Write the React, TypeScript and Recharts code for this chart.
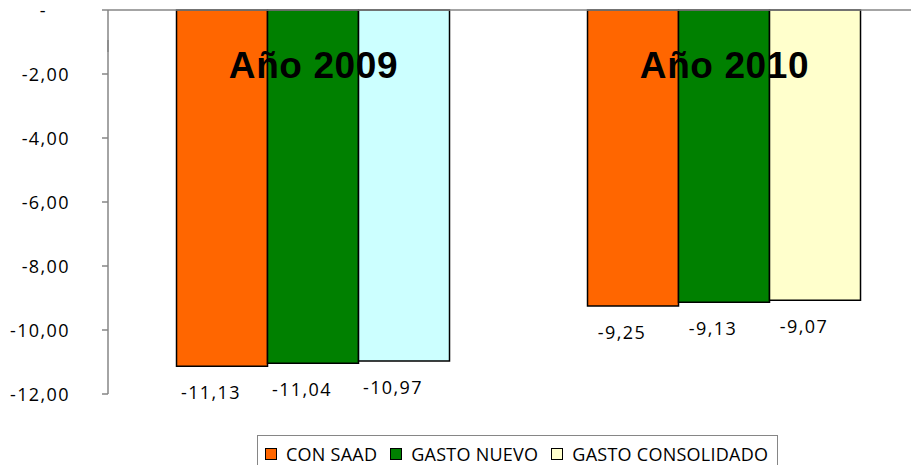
import React from 'react';
import { BarChart, Bar, XAxis, YAxis, Legend, LabelList, Cell } from 'recharts';

const categories = ['Año 2009', 'Año 2010'];
const conSaad = [-11.13, -9.25];
const gastoNuevo = [-11.04, -9.13];
const gastoConsolidado = [-10.97, -9.07];
const yTicks = [-12, -10, -8, -6, -4, -2, 0];
const seriesNames = ['CON SAAD', 'GASTO NUEVO', 'GASTO CONSOLIDADO'];
const seriesColors = ['#FF6600', '#008000', '#FFFFCC'];
const consolidadoColors = ['#CCFFFF', '#FFFFCC'];

const data = categories.map((c, i) => ({
  cat: c,
  conSaad: conSaad[i],
  gastoNuevo: gastoNuevo[i],
  gastoConsolidado: gastoConsolidado[i],
}));

const fmt = (v: number) => v.toFixed(2).replace('.', ',');

const renderLabel = (props: any) => {
  const { x, y, width, height, value } = props;
  const bottom = Math.max(Number(y), Number(y) + Number(height));
  return (
    <text
      x={Number(x) + Number(width) / 2 - 11}
      y={bottom + 26}
      textAnchor="middle"
      dominantBaseline="central"
      fontFamily="Open Sans"
      fontSize={18}
      letterSpacing={1.4}
      fill="#000"
    >
      {fmt(Number(value))}
    </text>
  );
};

const YTick = (props: any) => {
  const { x, y, payload } = props;
  const v = payload.value;
  return (
    <text
      x={v === 0 ? x - 23 : x}
      y={y}
      textAnchor="end"
      dominantBaseline="central"
      fontFamily="Open Sans"
      fontSize={18}
      letterSpacing={1.4}
      fill="#000"
    >
      {v === 0 ? '-' : fmt(v)}
    </text>
  );
};

const CatTick = (props: any) => {
  const { x, payload } = props;
  return (
    <text
      x={x}
      y={78}
      textAnchor="middle"
      fontFamily="Liberation Sans, Arial, sans-serif"
      fontWeight="bold"
      fontSize={37}
      letterSpacing={0.6}
      fill="#000"
    >
      {payload.value}
    </text>
  );
};

const EmptyTick = () => <g />;

const LegendBox = () => (
  <div
    style={{
      boxSizing: 'border-box',
      width: 521,
      height: 42,
      border: '1.5px solid #868686',
      display: 'flex',
      alignItems: 'center',
      paddingLeft: 7,
      paddingBottom: 4,
      fontFamily: 'Open Sans',
      fontSize: 18,
      letterSpacing: 0.25,
      whiteSpace: 'nowrap',
      background: '#fff',
      color: '#000',
    }}
  >
    {seriesNames.map((n, i) => (
      <span key={n} style={{ display: 'flex', alignItems: 'center', marginRight: i < 2 ? 13 : 0 }}>
        <span
          style={{
            boxSizing: 'border-box',
            width: 12,
            height: 12,
            border: '1.5px solid #000',
            background: seriesColors[i],
            marginRight: 9,
            display: 'inline-block',
          }}
        />
        {n}
      </span>
    ))}
  </div>
);

export default function App() {
  return (
    <div style={{ margin: -8, width: 919, height: 473, overflow: 'hidden', background: '#fff', position: 'relative' }}>
      <BarChart
        width={930}
        height={473}
        data={data}
        margin={{ top: 10, right: 0, left: 0, bottom: 79 }}
        barCategoryGap="16.67%"
        barGap={0}
      >
        <XAxis
          dataKey="cat"
          orientation="top"
          height={30}
          mirror
          axisLine={{ stroke: '#868686', strokeWidth: 1.5 }}
          tickLine={false}
          tick={<CatTick />}
          interval={0}
        />
        <XAxis
          xAxisId="sep"
          type="number"
          domain={[0, 2]}
          ticks={[0, 1, 2]}
          orientation="top"
          height={30}
          mirror
          axisLine={false}
          tickSize={12}
          tickLine={{ stroke: '#868686', strokeWidth: 1.5 }}
          tick={<EmptyTick />}
        />
        <YAxis
          width={108}
          domain={[-12, 0]}
          ticks={yTicks}
          interval={0}
          axisLine={{ stroke: '#868686', strokeWidth: 1.5 }}
          tickLine={{ stroke: '#868686', strokeWidth: 1.5 }}
          tickSize={6}
          tickMargin={32}
          tick={<YTick />}
        />
        <Legend
          layout="horizontal"
          verticalAlign="middle"
          align="center"
          wrapperStyle={{ left: 257, top: 435, width: 521 }}
          content={<LegendBox />}
        />
        <Bar dataKey="conSaad" name={seriesNames[0]} fill={seriesColors[0]} stroke="#000" strokeWidth={1.5} isAnimationActive={false}>
          <LabelList dataKey="conSaad" content={renderLabel} />
        </Bar>
        <Bar dataKey="gastoNuevo" name={seriesNames[1]} fill={seriesColors[1]} stroke="#000" strokeWidth={1.5} isAnimationActive={false}>
          <LabelList dataKey="gastoNuevo" content={renderLabel} />
        </Bar>
        <Bar dataKey="gastoConsolidado" name={seriesNames[2]} fill={seriesColors[2]} stroke="#000" strokeWidth={1.5} isAnimationActive={false}>
          {data.map((d, i) => (
            <Cell key={d.cat} fill={consolidadoColors[i]} />
          ))}
          <LabelList dataKey="gastoConsolidado" content={renderLabel} />
        </Bar>
      </BarChart>
    </div>
  );
}
